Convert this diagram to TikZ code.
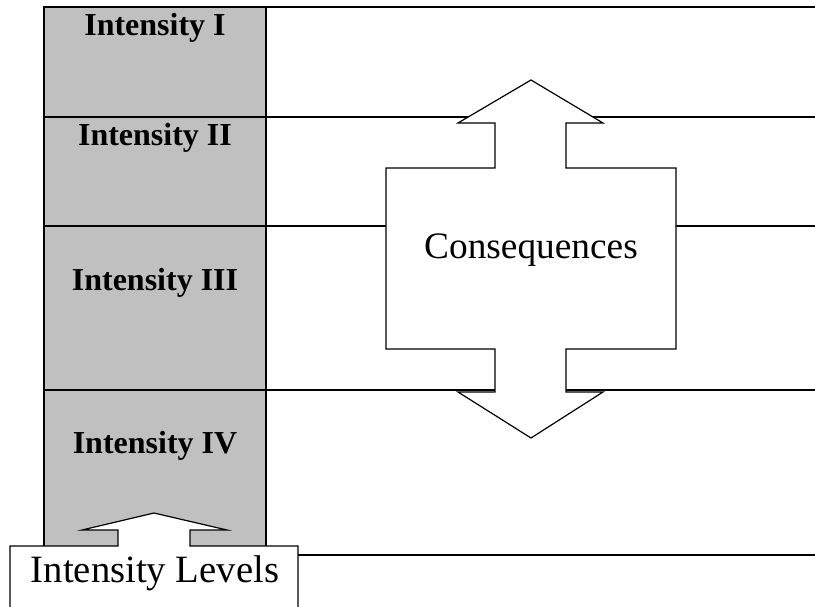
\documentclass[tikz,border=0pt]{standalone}
\usepackage{fontspec}
\setmainfont{Liberation Serif}
\begin{document}
\begin{tikzpicture}[x=0.75pt,y=-0.75pt,
  rowline/.style={line width=1.3pt},
  cell/.style={fill=cellgray,draw=black,line width=1.1pt},
  lvl/.style={font=\fontsize{24}{28}\selectfont\bfseries,anchor=base},
  callout/.style={fill=white,draw=black,line width=0.9pt,line join=miter},
  big/.style={font=\fontsize{28}{32}\selectfont,anchor=base}]
\definecolor{cellgray}{HTML}{C0C0C0}
\useasboundingbox (0,0) rectangle (815,607);
\clip (0,0) rectangle (815,607);
% right-hand horizontal lines
\coordinate (r0) at (815,7);
\coordinate (r1) at (815,117);
\coordinate (r2) at (815,226);
\coordinate (r3) at (815,390);
\coordinate (r4) at (815,555);
% gray cells
\path[cell] (44,7) rectangle (266,117);
\path[cell] (44,117) rectangle (266,226);
\path[cell] (44,226) rectangle (266,390);
\path[cell] (44,390) rectangle (266,555);
\coordinate (l0) at (266,7);
\coordinate (l1) at (266,117);
\coordinate (l2) at (266,226);
\coordinate (l3) at (266,390);
\coordinate (l4) at (266,555);
\draw[rowline] (44,7) -- (r0);
\draw[rowline] (l1) -- (r1);
\draw[rowline] (l2) -- (r2);
\draw[rowline] (l3) -- (r3);
\draw[rowline] (l4) -- (r4);
% labels of the cells
\node[lvl] (i1) at (155,35) {Intensity I};
\node[lvl] (i2) at (155,145) {Intensity II};
\node[lvl] (i3) at (155,290) {Intensity III};
\node[lvl] (i4) at (155,453) {Intensity IV};
% consequences double arrow callout
\path[callout] (386,168) -- (495,168) -- (495,123) -- (458,123) -- (531,80)
  -- (603,123) -- (566,123) -- (566,168) -- (676,168) -- (676,349)
  -- (566,349) -- (566,392) -- (603,392) -- (531,438) -- (458,392)
  -- (495,392) -- (495,349) -- (386,349) -- cycle;
\node[big] (cons) at (531,258) {Consequences};
% intensity levels callout
\path[callout] (10,625) -- (10,546) -- (118,546) -- (118,530) -- (82,530)
  -- (154,513) -- (227,530) -- (190,530) -- (190,546) -- (298,546) -- (298,625);
\node[font=\fontsize{29}{32}\selectfont,anchor=base] (levels) at (155,582) {Intensity Levels};
\end{tikzpicture}
\end{document}
